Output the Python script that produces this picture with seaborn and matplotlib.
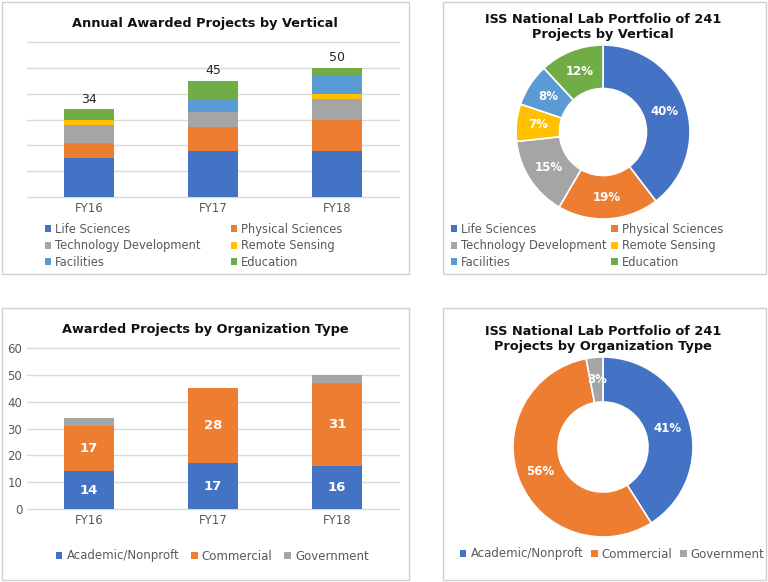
import numpy as np
import pandas as pd
import matplotlib
matplotlib.use("Agg")
import matplotlib.pyplot as plt
import seaborn as sns
from matplotlib.patches import Patch, Rectangle

# ---- data ----
years = ["FY16", "FY17", "FY18"]

verticals = ["Life Sciences", "Physical Sciences", "Technology Development",
             "Remote Sensing", "Facilities", "Education"]
life_sciences = [15, 18, 18]
physical_sciences = [6, 9, 12]
tech_development = [7, 6, 8]
remote_sensing = [2, 0, 2]
facilities = [0, 5, 7]
education = [4, 7, 3]
vertical_share = [40, 19, 15, 7, 8, 12]   # % of 241 projects

org_types = ["Academic/Nonproft", "Commercial", "Government"]
academic = [14, 17, 16]
commercial = [17, 28, 31]
government = [3, 0, 3]
org_share = [41, 56, 3]                    # % of 241 projects

vert_colors = ["#4472C4", "#ED7D31", "#A5A5A5", "#FFC000", "#5B9BD5", "#70AD47"]
org_colors = ["#4472C4", "#ED7D31", "#A5A5A5"]

sns.set_style("white")
plt.rcParams['font.family'] = ['DejaVu Sans']
TXT = "#595959"
TITLE_FS = 9.3

W, H = 768, 582
fig = plt.figure(figsize=(W / 100, H / 100), dpi=100)


def px(x, y):
    # pixel position -> figure fraction
    return x / W, 1 - y / H


def axes_px(x0, y0, x1, y1):
    return fig.add_axes([x0 / W, 1 - y1 / H, (x1 - x0) / W, (y1 - y0) / H])


# panel frames
for (x0, y0, x1, y1) in [(2, 2, 409, 274), (443, 2, 766, 274),
                         (2, 308, 409, 580), (443, 308, 766, 580)]:
    fig.patches.append(Rectangle(px(x0, y1), (x1 - x0) / W, (y1 - y0) / H,
                                 transform=fig.transFigure, fill=False,
                                 edgecolor="#D0D0D0", lw=1))


def stacked_bars(ax, series, names, colors):
    df = pd.DataFrame(dict(zip(names, series)), index=years)
    cum = df.cumsum(axis=1)
    # draw cumulative totals from the top layer down
    for name, color in reversed(list(zip(names, colors))):
        sns.barplot(x=list(cum.index), y=cum[name].values, color=color,
                    width=0.4, saturation=1, edgecolor="none", ax=ax)
    ax.set_ylim(0, 60)
    ax.set_xlim(-0.5, 2.5)
    ax.set_yticks(range(0, 61, 10))
    ax.yaxis.grid(True, color="#D9D9D9", lw=1)
    for gl in ax.get_ygridlines():
        gl.set_clip_on(False)
    ax.set_axisbelow(True)
    sns.despine(ax=ax, left=True, bottom=True)
    ax.tick_params(axis="both", length=0, colors=TXT, labelsize=8.5)
    ax.set_xlabel("")
    return df, cum


def donut(ax, shares, colors):
    wedges, _ = ax.pie(shares, colors=colors, startangle=90, counterclock=False,
                       radius=1, wedgeprops=dict(width=0.5, edgecolor="white", linewidth=1.2))
    for w, s in zip(wedges, shares):
        mid = np.deg2rad((w.theta1 + w.theta2) / 2)
        ax.text(0.75 * np.cos(mid), 0.75 * np.sin(mid), f"{s}%", ha="center", va="center",
                color="white", fontsize=8.5, fontweight="bold")
    ax.set_xlim(-1, 1)
    ax.set_ylim(-1, 1)
    ax.set_aspect("equal")
    ax.axis("off")


def legend(names, colors, anchor, ncol, colspace, fs, order=None):
    handles = [Patch(facecolor=c, edgecolor="none") for c in colors]
    labels = list(names)
    if order is not None:
        handles = [handles[i] for i in order]
        labels = [labels[i] for i in order]
    fig.legend(handles, labels, loc="center left", bbox_to_anchor=px(*anchor),
               ncol=ncol, frameon=False, fontsize=fs, labelcolor=TXT,
               handlelength=0.55, handleheight=0.55, handletextpad=0.35,
               columnspacing=colspace, labelspacing=0.3, borderpad=0, borderaxespad=0)


def title(x, y, text):
    fig.text(*px(x, y), text, ha="center", va="center", fontsize=TITLE_FS,
             fontweight="bold", color="#111111", linespacing=1.25)


# ---- top left: annual awarded projects by vertical ----
ax1 = axes_px(27, 42, 399, 197)
v_series = [life_sciences, physical_sciences, tech_development,
            remote_sensing, facilities, education]
df1, cum1 = stacked_bars(ax1, v_series, verticals, vert_colors)
ax1.set_yticklabels([])
for i, tot in enumerate(df1.sum(axis=1)):
    ax1.text(i, tot + 1.4, str(tot), ha="center", va="bottom", fontsize=9,
             color="#262626")
title(205, 23, "Annual Awarded Projects by Vertical")
legend(verticals, vert_colors, (45, 246), 2, 2.6, 8.3, order=[0, 2, 4, 1, 3, 5])

# ---- top right: portfolio by vertical ----
ax2 = axes_px(603 - 87, 132 - 87, 603 + 87, 132 + 87)
donut(ax2, vertical_share, vert_colors)
title(603, 27, "ISS National Lab Portfolio of 241\nProjects by Vertical")
legend(verticals, vert_colors, (451, 246), 2, 0.4, 8.3, order=[0, 2, 4, 1, 3, 5])

# ---- bottom left: by organization type ----
ax3 = axes_px(27, 348, 399, 509)
df3, cum3 = stacked_bars(ax3, [academic, commercial, government], org_types, org_colors)
for i in range(len(years)):
    ax3.text(i, academic[i] / 2, str(academic[i]), ha="center", va="center",
             color="white", fontsize=9.5, fontweight="bold")
    ax3.text(i, academic[i] + commercial[i] / 2, str(commercial[i]), ha="center",
             va="center", color="white", fontsize=9.5, fontweight="bold")
title(205, 330, "Awarded Projects by Organization Type")
legend(org_types, org_colors, (56, 556), 3, 1.0, 8.5)

# ---- bottom right: portfolio by organization type ----
ax4 = axes_px(603 - 90, 447 - 90, 603 + 90, 447 + 90)
donut(ax4, org_share, org_colors)
title(603, 339, "ISS National Lab Portfolio of 241\nProjects by Organization Type")
legend(org_types, org_colors, (460, 554), 3, 0.65, 8.5)

fig.savefig("out.png", dpi=100, facecolor="white")
